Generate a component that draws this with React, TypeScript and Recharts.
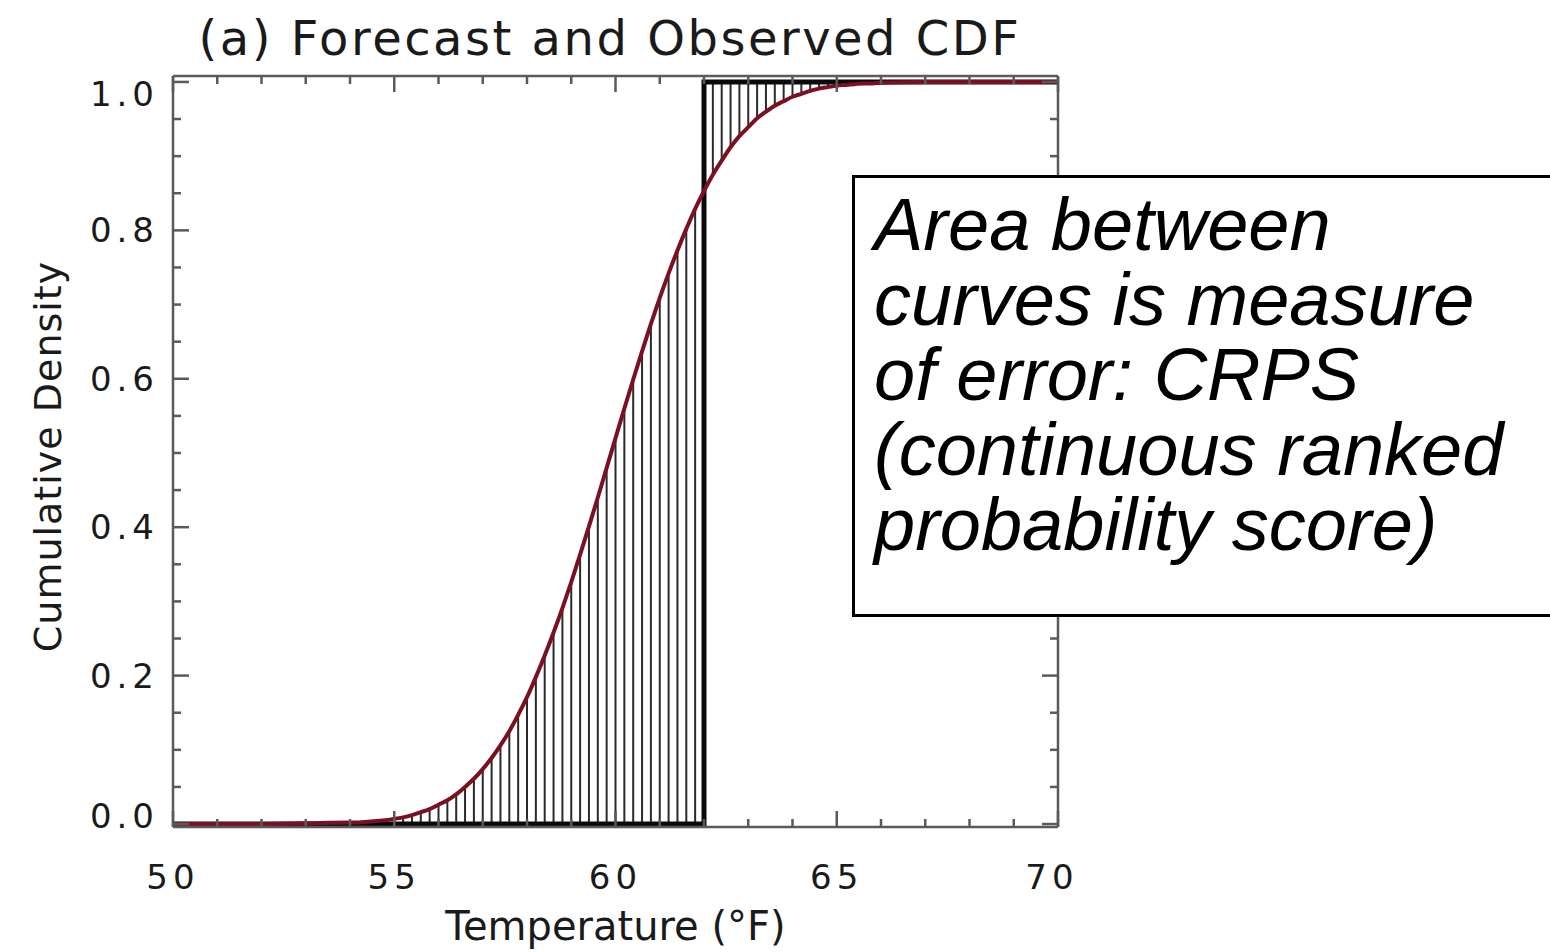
import { ComposedChart, Line, XAxis, YAxis, ReferenceLine, Label } from "recharts";

// forecast CDF (°F -> cumulative density)
const curveTemps = [
  50, 52, 53, 54, 54.2, 54.4, 54.6, 54.8, 55, 55.2, 55.4, 55.6, 55.8, 56, 56.2, 56.4, 56.6, 56.8,
  57, 57.2, 57.4, 57.6, 57.8, 58, 58.2, 58.4, 58.6, 58.8, 59, 59.2, 59.4, 59.6, 59.8, 60, 60.2,
  60.4, 60.6, 60.8, 61, 61.2, 61.4, 61.6, 61.8, 62, 62.2, 62.4, 62.6, 62.8, 63, 63.2, 63.4, 63.6,
  63.8, 64, 64.2, 64.4, 64.6, 64.8, 65, 65.2, 65.4, 65.6, 65.8, 66, 67, 68, 70,
];
const forecastCdf = [
  0, 0, 0.001, 0.002, 0.002, 0.003, 0.004, 0.005, 0.007, 0.009, 0.012, 0.016, 0.02, 0.026, 0.032,
  0.04, 0.05, 0.061, 0.074, 0.089, 0.106, 0.125, 0.147, 0.171, 0.198, 0.227, 0.258, 0.291, 0.326,
  0.363, 0.401, 0.44, 0.48, 0.52, 0.56, 0.599, 0.637, 0.674, 0.709, 0.742, 0.773, 0.802, 0.829,
  0.853, 0.875, 0.894, 0.912, 0.927, 0.939, 0.951, 0.96, 0.968, 0.974, 0.98, 0.984, 0.988, 0.991,
  0.993, 0.995, 0.996, 0.997, 0.998, 0.998, 0.999, 1, 1, 1,
];

// observed value as a step CDF
const obsTemps = [50, 62, 70];
const obsCdf = [0, 1, 1];
const observed = 62;

// hatching runs between the curves
const hatchFrom = 55;
const hatchTo = 64.8;

const xTicks = [50, 51, 52, 53, 54, 55, 56, 57, 58, 59, 60, 61, 62, 63, 64, 65, 66, 67, 68, 69, 70];
const xLabels = [50, 55, 60, 65, 70];
const yTicks = [
  0, 0.05, 0.1, 0.15, 0.2, 0.25, 0.3, 0.35, 0.4, 0.45, 0.5, 0.55, 0.6, 0.65, 0.7, 0.75, 0.8, 0.85,
  0.9, 0.95, 1,
];
const yLabels = [0, 0.2, 0.4, 0.6, 0.8, 1];

const forecastData = curveTemps.map((t, i) => ({ t, f: forecastCdf[i] }));
const obsData = obsTemps.map((t, i) => ({ t, o: obsCdf[i] }));
const hatches = forecastData.filter((d) => d.t >= hatchFrom && d.t <= hatchTo && d.t !== observed);

const AXIS = "#5a5a5a";
const FONT = "'DejaVu Sans', sans-serif";

function InTick(props: any) {
  const { x, y, payload, side } = props;
  const v = payload.value;
  const labeled = side === "bottom" ? xLabels.includes(v) : side === "left" ? yLabels.includes(v) : false;
  const major = side === "bottom" || side === "top" ? xLabels.includes(v) : yLabels.includes(v);
  const len = major ? 16 : 8;
  if (side === "bottom") {
    return (
      <g>
        <line x1={x} y1={y} x2={x} y2={y - len} stroke={AXIS} strokeWidth={2.5} />
        {labeled && (
          <text x={v === 70 ? x - 6 : x} y={y + 62} textAnchor="middle" fontFamily={FONT} fontSize={34} fill="#1a1a1a" letterSpacing={5}>
            {v}
          </text>
        )}
      </g>
    );
  }
  if (side === "top") {
    return <line x1={x} y1={y} x2={x} y2={y + len} stroke={AXIS} strokeWidth={2.5} />;
  }
  if (side === "right") {
    return <line x1={x} y1={y} x2={x - len} y2={y} stroke={AXIS} strokeWidth={2.5} />;
  }
  const nudge = v === 0 ? -8 : v === 1 ? 12 : 0;
  return (
    <g>
      <line x1={x} y1={y} x2={x + len} y2={y} stroke={AXIS} strokeWidth={2.5} />
      {labeled && (
        <text x={x - 14} y={y + nudge + 12} textAnchor="end" fontFamily={FONT} fontSize={34} fill="#1a1a1a" letterSpacing={5}>
          {v.toFixed(1)}
        </text>
      )}
    </g>
  );
}

function YTitle(props: any) {
  const { viewBox } = props;
  const cx = 48;
  const cy = viewBox.y + viewBox.height / 2 + 5;
  return (
    <text x={cx} y={cy} transform={`rotate(-90 ${cx} ${cy})`} textAnchor="middle" dominantBaseline="central" fontFamily={FONT} fontSize={38} fill="#1a1a1a" letterSpacing={1}>
      Cumulative Density
    </text>
  );
}

function XTitle(props: any) {
  const { viewBox } = props;
  const cx = viewBox.x + viewBox.width / 2;
  return (
    <text x={cx} y={940} textAnchor="middle" fontFamily={FONT} fontSize={40} fill="#1a1a1a">
      Temperature (°F)
    </text>
  );
}

export default function App() {
  return (
    <div style={{ position: "absolute", left: 0, top: 0, width: 1550, height: 952, background: "#fff", overflow: "hidden" }}>
      <div
        style={{
          position: "absolute",
          left: 0,
          top: 14,
          width: 1220,
          textAlign: "center",
          fontFamily: FONT,
          fontSize: 48,
          lineHeight: "48px",
          letterSpacing: 2.5,
          color: "#1a1a1a",
        }}
      >
        (a) Forecast and Observed CDF
      </div>
      <ComposedChart width={1550} height={952} margin={{ top: 66, right: 482, bottom: 65, left: 0 }}>
        <XAxis
          xAxisId="b"
          dataKey="t"
          type="number"
          domain={[50, 70]}
          ticks={xTicks}
          interval={0}
          height={60}
          tickSize={0}
          tickMargin={0}
          tickLine={false}
          axisLine={{ stroke: AXIS, strokeWidth: 2.5 }}
          tick={<InTick side="bottom" />}
          allowDataOverflow
        >
          <Label content={<XTitle />} />
        </XAxis>
        <XAxis
          xAxisId="t"
          orientation="top"
          dataKey="t"
          type="number"
          domain={[50, 70]}
          ticks={xTicks}
          interval={0}
          height={10}
          tickSize={0}
          tickMargin={0}
          tickLine={false}
          axisLine={{ stroke: AXIS, strokeWidth: 2.5 }}
          tick={<InTick side="top" />}
          allowDataOverflow
        />
        <YAxis
          yAxisId="l"
          type="number"
          domain={[-0.004, 1.008]}
          ticks={yTicks}
          interval={0}
          width={173}
          tickSize={0}
          tickMargin={0}
          tickLine={false}
          axisLine={{ stroke: AXIS, strokeWidth: 2.5 }}
          tick={<InTick side="left" />}
          allowDataOverflow
        >
          <Label content={<YTitle />} />
        </YAxis>
        <YAxis
          yAxisId="r"
          orientation="right"
          type="number"
          domain={[-0.004, 1.008]}
          ticks={yTicks}
          interval={0}
          width={10}
          tickSize={0}
          tickMargin={0}
          tickLine={false}
          axisLine={{ stroke: AXIS, strokeWidth: 2.5 }}
          tick={<InTick side="right" />}
          allowDataOverflow
        />
        {hatches.map((d) => (
          <ReferenceLine
            key={d.t}
            xAxisId="b"
            yAxisId="l"
            segment={d.t < observed ? [{ x: d.t, y: 0 }, { x: d.t, y: d.f }] : [{ x: d.t, y: d.f }, { x: d.t, y: 1 }]}
            stroke="#2a2a2a"
            strokeWidth={2}
          />
        ))}
        <Line
          xAxisId="b"
          yAxisId="l"
          data={obsData}
          dataKey="o"
          type="stepAfter"
          stroke="#0a0a0a"
          strokeWidth={5}
          dot={false}
          isAnimationActive={false}
        />
        <Line
          xAxisId="b"
          yAxisId="l"
          data={forecastData}
          dataKey="f"
          type="monotone"
          stroke="#7a1020"
          strokeWidth={4}
          dot={false}
          isAnimationActive={false}
        />
      </ComposedChart>
      <div
        style={{
          position: "absolute",
          left: 852,
          top: 175,
          width: 760,
          height: 442,
          boxSizing: "border-box",
          border: "3px solid #000",
          background: "#fff",
          padding: "9px 0 0 19px",
          fontFamily: "'Liberation Sans', Arial, sans-serif",
          fontStyle: "italic",
          fontSize: 74,
          lineHeight: "75px",
          color: "#000",
        }}
      >
        Area between
        <br />
        curves is measure
        <br />
        of error: CRPS
        <br />
        (continuous ranked
        <br />
        probability score)
      </div>
    </div>
  );
}
